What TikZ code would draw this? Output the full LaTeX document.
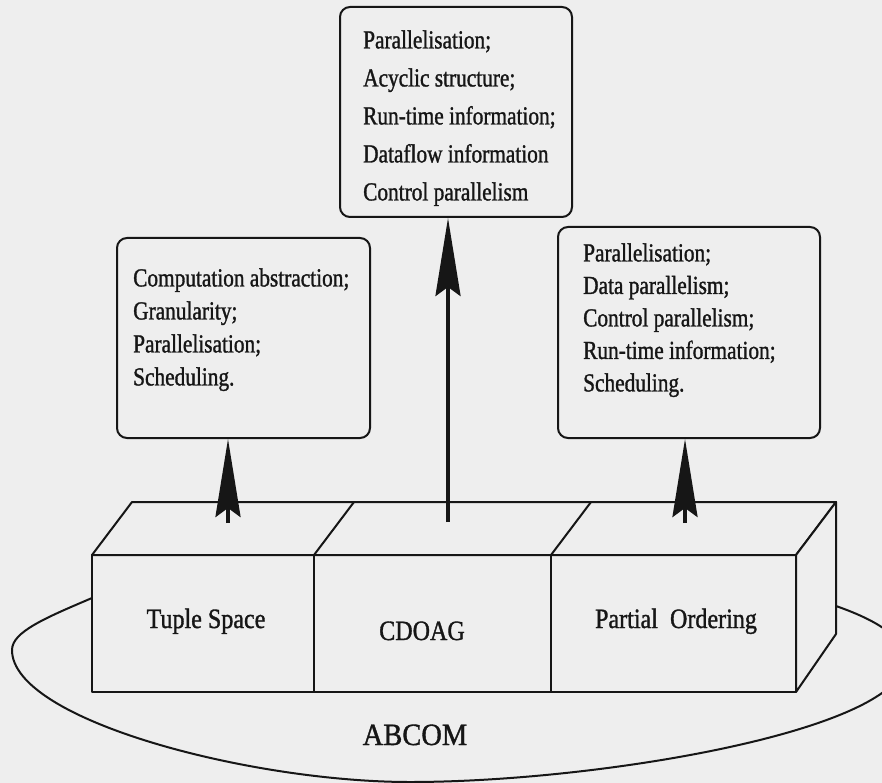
\documentclass[tikz,border=0pt]{standalone}
\usepackage{fontspec}
\usetikzlibrary{arrows.meta}
\newfontfamily\txtfont[FakeStretch=0.82, FakeBold=1.2]{Liberation Serif}
\newfontfamily\lblfont[FakeStretch=0.86, FakeBold=1.2]{Liberation Serif}
\newfontfamily\bigfont[FakeStretch=0.92, FakeBold=1.2]{Liberation Serif}
\definecolor{paper}{RGB}{238,238,238}
\definecolor{ink}{RGB}{22,22,22}
\begin{document}
\begin{tikzpicture}[x=1pt,y=-1pt,
  outline/.style={draw=ink, line width=2pt, line join=round},
  face/.style={outline, fill=paper},
  infobox/.style={draw=ink, line width=2pt, rounded corners=10pt, fill=paper, inner sep=0pt},
  infotext/.style={anchor=north west, inner sep=0pt, align=left, text=ink},
  lbl/.style={anchor=base, inner sep=0pt, text=ink, font=\lblfont\fontsize{28}{30}\selectfont},
  uparrow/.style={draw=ink, line width=3.8pt, -{Stealth[length=78pt,width=25pt,inset=9pt]}}
]
\useasboundingbox (0,0) rectangle (882,783);
\clip (0,0) rectangle (882,783);
\fill[paper] (0,0) rectangle (882,783);

% ABCOM outline around the base block
\draw[outline] (92,598) .. controls (45,618) and (12,632) .. (12,650)
  .. controls (12,720) and (250,782) .. (410,782)
  .. controls (600,782) and (905,730) .. (905,660)
  .. controls (905,635) and (870,618) .. (836,606);

% base block: front, top and right faces
\coordinate (f1) at (92,555);  \coordinate (f2) at (314,555);
\coordinate (f3) at (551,555); \coordinate (f4) at (796,555);
\coordinate (b1) at (132,502); \coordinate (b2) at (354,502);
\coordinate (b3) at (591,502); \coordinate (b4) at (836,502);
\coordinate (g1) at (92,692);  \coordinate (g4) at (796,692);
\coordinate (rb) at (836,634);
\draw[face] (f1) rectangle (g4);
\draw[face] (f1) -- (b1) -- (b4) -- (f4) -- cycle;
\draw[face] (f4) -- (b4) -- (rb) -- (g4) -- cycle;
\draw[outline] (f2) -- (b2) (f3) -- (b3);
\draw[outline] (f2) -- (f2 |- g1) (f3) -- (f3 |- g1);

\node[lbl] (tuple) at (206,628) {Tuple Space};
\node[lbl] (cdoag) at (422,640) {CDOAG};
\node[lbl] (porder) at (676,628) {Partial\ \ Ordering};
\node[lbl, font=\bigfont\fontsize{31}{34}\selectfont] (abcom) at (415,745) {ABCOM};

% property boxes
\node[infobox, minimum width=232pt, minimum height=210pt] (topbox) at (456,112) {};
\node[infobox, minimum width=253pt, minimum height=200pt] (leftbox) at (243.5,338) {};
\node[infobox, minimum width=262pt, minimum height=211pt] (rightbox) at (689,332.5) {};

\node[infotext, font=\txtfont\fontsize{26}{38}\selectfont] (toptext) at (363,30.2)
  {Parallelisation;\\Acyclic structure;\\Run-time information;\\Dataflow information\\Control parallelism};
\node[infotext, font=\txtfont\fontsize{26}{33}\selectfont] (lefttext) at (133,268.2)
  {Computation abstraction;\\Granularity;\\Parallelisation;\\Scheduling.};
\node[infotext, font=\txtfont\fontsize{26}{32.5}\selectfont] (righttext) at (583,243.2)
  {Parallelisation;\\Data parallelism;\\Control parallelism;\\Run-time information;\\Scheduling.};

% arrows from the block up to the boxes
\coordinate (lfoot) at (228,523);
\coordinate (mfoot) at (448,522);
\coordinate (rfoot) at (685,523);
\draw[uparrow] (lfoot) -- (lfoot |- leftbox.south);
\draw[uparrow] (mfoot) -- (mfoot |- topbox.south);
\draw[uparrow] (rfoot) -- (rfoot |- rightbox.south);
\end{tikzpicture}
\end{document}
